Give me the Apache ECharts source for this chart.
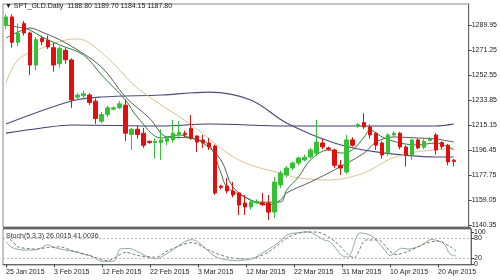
<!DOCTYPE html>
<html><head><meta charset="utf-8">
<script src="https://cdn.jsdelivr.net/npm/echarts@6/dist/echarts.min.js"></script>
<style>html,body{margin:0;padding:0;background:#fff}#c{width:500px;height:280px}</style>
</head><body><div id="c"></div>
<script>
const dates = ["25 Jan 2015","26 Jan 2015","27 Jan 2015","28 Jan 2015","29 Jan 2015","30 Jan 2015","1 Feb 2015","2 Feb 2015",
"3 Feb 2015","4 Feb 2015","5 Feb 2015","6 Feb 2015","8 Feb 2015","9 Feb 2015","10 Feb 2015","11 Feb 2015",
"12 Feb 2015","13 Feb 2015","15 Feb 2015","16 Feb 2015","17 Feb 2015","18 Feb 2015","19 Feb 2015","20 Feb 2015",
"22 Feb 2015","23 Feb 2015","24 Feb 2015","25 Feb 2015","26 Feb 2015","27 Feb 2015","1 Mar 2015","2 Mar 2015",
"3 Mar 2015","4 Mar 2015","5 Mar 2015","6 Mar 2015","8 Mar 2015","9 Mar 2015","10 Mar 2015","11 Mar 2015",
"12 Mar 2015","13 Mar 2015","15 Mar 2015","16 Mar 2015","17 Mar 2015","18 Mar 2015","19 Mar 2015","20 Mar 2015",
"22 Mar 2015","23 Mar 2015","24 Mar 2015","25 Mar 2015","26 Mar 2015","27 Mar 2015","29 Mar 2015","30 Mar 2015",
"31 Mar 2015","1 Apr 2015","2 Apr 2015","5 Apr 2015","6 Apr 2015","7 Apr 2015","8 Apr 2015","9 Apr 2015",
"10 Apr 2015","12 Apr 2015","13 Apr 2015","14 Apr 2015","15 Apr 2015","16 Apr 2015","17 Apr 2015","19 Apr 2015",
"20 Apr 2015","21 Apr 2015","22 Apr 2015","23 Apr 2015","",""];
const labelIdx = [0,8,16,24,32,40,48,56,64,72];
// [open, close, low, high]
const ohlc = [
[1289.5,1296,1287,1298],[1296,1277,1273,1298],[1277,1284,1274,1291],[1291,1284,1282,1293],
[1284,1260,1252.5,1285],[1260,1279,1256,1281],[1280,1277.5,1275,1282],[1278.5,1273.5,1272,1282],
[1273,1260,1255,1276.5],[1261,1272.5,1258,1274],[1271,1264,1261,1273],[1263.8,1233.9,1228,1265],
[1236,1237.5,1234.5,1239],[1237,1238.5,1234,1241],[1237.6,1232,1230,1239],[1233,1220,1216,1235],
[1218,1223,1216.5,1225],[1223,1228,1221,1229.5],[1227,1228,1226,1229],[1228,1231,1227,1233],
[1230,1209,1203,1234],[1208,1212,1196.5,1213],[1212,1208,1205,1215],[1209,1200,1198,1213],
[1203,1202,1201,1203.5],[1202,1203,1190,1205],[1202,1204,1189,1212],[1203,1205,1200,1207],
[1204,1209,1202,1219],[1208,1209.5,1205,1218],[1209,1208,1206,1211],[1212.7,1205.2,1204,1222.6],
[1206.9,1202.4,1195,1207.5],[1203.9,1201.7,1198,1207.7],[1201.7,1198.7,1196.5,1205.4],[1199.4,1164.3,1162.8,1200.5],
[1169.5,1168.5,1167,1170.5],[1169.5,1165.8,1164,1175.5],[1165.8,1162.8,1161,1172.5],[1164.3,1155.3,1147.8,1165],
[1156.8,1153.8,1147.8,1162.8],[1153.8,1157.5,1152,1159],[1157,1158,1156,1159.5],[1157,1155.5,1154.5,1164.3],
[1156.8,1150,1144.1,1162.8],[1150,1172.5,1145.6,1176.3],[1170.3,1179.2,1168,1181],[1177.7,1183,1176,1184.5],
[1183,1186.7,1181.5,1188],[1186.7,1190.5,1185,1191.5],[1189,1191,1188,1193],[1191.2,1196.5,1190,1198],
[1194,1202.4,1192,1218.9],[1201.7,1198.7,1197,1205],[1198,1197,1196,1199],[1196.5,1185,1183,1197.5],
[1185,1183,1177.7,1189],[1180,1204,1178.5,1207.7],[1204,1200,1199,1206],[1214,1215.5,1213,1216.5],
[1217,1213.7,1212,1224],[1213.7,1207.7,1205,1215.5],[1209,1200,1196.5,1210],[1201.7,1192.7,1190,1203],
[1194,1207.7,1192,1209],[1207.7,1209,1206,1210.5],[1209,1198.7,1197,1210],[1198.7,1192.7,1184,1200],
[1192.7,1203.9,1189,1205],[1203.9,1198,1197,1205],[1198.5,1203,1197,1204.5],[1203.5,1204.7,1203,1206],
[1207.7,1196.5,1193,1209],[1202,1199,1197,1203],[1200,1187.5,1185,1201],[1188.8,1187.8,1184.15,1189.7]
];
// moving averages as [barIndex, price]
const maFast = [[0,1290],[2,1288.4],[4,1286.2],[6,1281],[9,1275],[13,1267.5],[16,1252.6],[20,1233.9],[22,1221.1],
[26,1205.4],[29,1207.7],[31,1205.4],[34,1200.2],[36,1179.3],[37,1168.8],[40,1161.3],[42,1157.5],[46,1157.5],[47,1166.5],
[49,1176.3],[51,1189],[54,1196.5],[56,1194.2],[58,1196.5],[60,1206.2],[61,1211.4],[63,1206.2],[66,1201.7],[69,1200.2],
[72,1201.7],[75,1196.5]];
const maMid = [[0,1280.2],[2,1284.7],[4,1287.7],[6,1284.7],[10,1276.5],[16,1258.5],[20,1236.1],[24,1220.4],[27,1206.2],
[31,1205.4],[33,1201.7],[36,1189],[38,1168.8],[41,1159.05],[44,1155.3],[46,1159.05],[47,1164.3],[51,1172.5],[55,1181.5],
[60,1194.2],[62,1202.4],[65,1206.2],[69,1205.4],[72,1204.7],[75,1202.4]];
const maSlow = [[0,1246.6],[2,1263.8],[6,1272.7],[10,1278.7],[12,1279.5],[17,1265.3],[22,1242.8],[31,1215.4],[39,1189],
[47,1177.8],[49,1175.5],[54,1174],[60,1179.3],[64,1189],[68,1194.5],[72,1196.5],[75,1198]];
const maLongA = [[0,1215.9],[11,1233.1],[16,1236.1],[26,1237.6],[34,1239.8],[41,1233.9],[47,1216.6],[55,1201.7],
[62,1195],[72,1191.2],[75,1191.2]];
const maLongB = [[0,1209.1],[6,1212.9],[11,1215.15],[26,1214.4],[34,1215.9],[47,1214.4],[62,1214.4],[72,1214.4],[75,1215.9]];
// stochastic
const stochMain = [[0,70],[1,52],[3,44],[5,45],[6,52],[7,60],[8,52],[10,44],[12,37],[13,30],[14,27],[15,17],[16,9],[18,10],
[19,47],[20,49],[21,47],[24,20],[25,17],[27,35],[30,72],[31,76],[35,23],[38,12],[41,17],[43,38],[45,62],[47,92],[49,98],
[50,100],[51,97],[53,75],[54,70],[56,27],[57,22],[59,97],[61,87],[63,47],[64,27],[66,50],[67,47],[69,57],[71,77],[72,72],
[73,64],[74,32],[75,26]];
const stochSignal = [[0,87],[1,72],[2,54],[4,48],[5,47],[7,52],[9,54],[11,42],[14,27],[16,14],[17,12],[20,37],[22,27],[25,22],
[27,42],[31,67],[34,42],[37,22],[40,17],[42,23],[44,41],[47,83],[50,100],[52,99],[55,68],[57,30],[58,20],[60,75],[62,75],
[64,41],[65,30],[67,40],[70,65],[72,72],[74,55],[75,41]];
const priceTicks = [1140.35,1159.05,1177.75,1196.45,1215.15,1233.85,1252.55,1271.25,1289.95];
const stochLevelTicks = [20,80];
const stochEndTicks = [0,100];
const lastPrice = 1187.80;
const titleText = "\u25BC SPT_GLD.Daily  1188.80 1189.70 1184.15 1187.80";
const stochText = "Stoch(5,3,3) 26.0015 41.0036";

const FONT = "Liberation Sans";
const chart = echarts.init(document.getElementById('c'), null, {renderer:'canvas'});
const showLabel = (i) => labelIdx.indexOf(i) >= 0;
const lineS = (name, data, color, width) => ({
  name, type:'line', data, xAxisIndex:0, yAxisIndex:0, symbol:'none', smooth:0.35,
  lineStyle:{color, width: width||1}, silent:true, z:3
});
const stochAxis = (ticks, show) => ({type:'value', gridIndex:1, position:'right', min:-2, max:109,
     axisLine:{show:show, lineStyle:{color:'#666'}},
     axisTick:{show:true, length:3, customValues:ticks, lineStyle:{color:'#444'}},
     axisLabel:{show:true, customValues:ticks, fontSize:7, fontFamily:FONT, color:'#222', margin:3, hideOverlap:false, showMinLabel:true, showMaxLabel:true},
     splitLine:{show:false}});
chart.setOption({
  animation:false,
  backgroundColor:'#fff',
  grid:[
    {left:3, top:4, width:468, height:223, show:true, borderColor:'#8a8a8a', borderWidth:1, backgroundColor:'#fff'},
    {left:3, top:229, width:468, height:36, show:true, borderColor:'#8a8a8a', borderWidth:1, backgroundColor:'#fff'}
  ],
  xAxis:[
    {type:'category', gridIndex:0, data:dates, boundaryGap:true, axisLine:{show:false}, axisTick:{show:false}, axisLabel:{show:false}, splitLine:{show:false}},
    {type:'category', gridIndex:1, data:dates, boundaryGap:true,
     axisLine:{show:true, lineStyle:{color:'#666'}},
     axisTick:{show:true, alignWithLabel:true, interval:(i)=>showLabel(i), length:3, lineStyle:{color:'#444'}},
     axisLabel:{show:true, interval:(i)=>showLabel(i), align:'left', margin:4, fontSize:7, fontFamily:FONT, color:'#222', hideOverlap:false, showMinLabel:true, showMaxLabel:true},
     splitLine:{show:false}}
  ],
  yAxis:[
    {type:'value', gridIndex:0, position:'right', min:1138.85, max:1305.66, scale:true,
     axisLine:{show:true, lineStyle:{color:'#666'}},
     axisTick:{show:true, length:3, customValues:priceTicks, lineStyle:{color:'#444'}},
     axisLabel:{show:true, customValues:priceTicks, fontSize:7, fontFamily:FONT, color:'#222', margin:3, formatter:(v)=>v.toFixed(2)},
     splitLine:{show:false}},
    stochAxis(stochLevelTicks, true),
    stochAxis(stochEndTicks, false)
  ],
  series:[
    lineS('long A', maLongA, '#4b4b80', 1.2),
    lineS('long B', maLongB, '#3f3f72', 1.2),
    lineS('slow', maSlow, '#d9c48e', 1),
    lineS('mid', maMid, '#5a5a5a', 1),
    lineS('fast', maFast, '#2f7d3a', 1),
    {type:'candlestick', xAxisIndex:0, yAxisIndex:0, data:ohlc, barWidth:4, z:4,
     itemStyle:{color:'#34c234', color0:'#e01010', borderColor:'#34c234', borderColor0:'#e01010', borderWidth:1},
     markLine:{silent:true, symbol:'none', data:[{yAxis:lastPrice}],
       lineStyle:{opacity:0},
       label:{show:true, position:'end', distance:1, formatter:lastPrice.toFixed(2), backgroundColor:'#000', color:'#fff', fontSize:7, fontFamily:FONT, padding:[1,2,1,1]}}
    },
    {type:'line', xAxisIndex:1, yAxisIndex:1, data:stochMain, symbol:'none', smooth:0.3, lineStyle:{color:'#8fae9a', width:1}, z:3,
     markLine:{silent:true, symbol:'none', label:{show:false}, lineStyle:{color:'#b8b8b8', type:[2,2], width:1}, data:[{yAxis:80},{yAxis:20}]}},
    {type:'line', xAxisIndex:1, yAxisIndex:1, data:stochSignal, symbol:'none', smooth:0.3, lineStyle:{color:'#777', width:1, type:[3,2]}, z:3}
  ],
  graphic:[
    {type:'text', left:5, top:3, style:{text:titleText, font:'7px '+FONT, fill:'#222'}},
    {type:'text', left:6, top:233, style:{text:stochText, font:'7px '+FONT, fill:'#333'}},
    {type:'rect', shape:{x:3, y:227, width:468, height:2}, style:{fill:'#666'}}
  ]
});
</script></body></html>
